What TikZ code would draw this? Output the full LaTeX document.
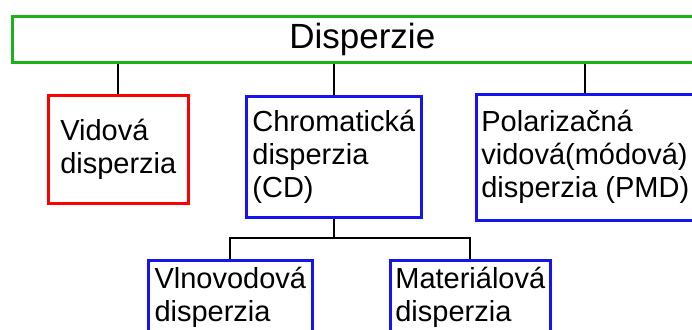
\documentclass[tikz,border=0pt]{standalone}
\usepackage{fontspec}
\setmainfont{Liberation Sans}
\definecolor{bgreen}{RGB}{26,180,26}
\definecolor{bblue}{RGB}{20,20,240}
\definecolor{bred}{RGB}{255,0,0}
\begin{document}
\begin{tikzpicture}[x=1pt,y=-1pt,
  box/.style={draw, line width=2.6pt, inner sep=0pt, align=left, anchor=north west,
              font=\fontsize{29}{33}\selectfont},
  link/.style={draw=black, line width=2pt}]
\useasboundingbox (0,0) rectangle (692,329);
\clip (0,0) rectangle (692,329);
\node[box, draw=bgreen, minimum width=700pt, minimum height=46pt,
      font=\fontsize{35}{40}\selectfont] (top) at (11,15) {Disperzie};
\node[box, draw=bred, minimum width=140pt, minimum height=108pt] (vid) at (47,94)
  {Vidová\\disperzia};
\node[box, draw=bblue, minimum width=175pt, minimum height=121pt] (chrom) at (245,95)
  {Chromatická\\disperzia\\(CD)};
\node[box, draw=bblue, minimum width=218pt, minimum height=126pt] (pol) at (475,93)
  {Polarizačná\\vidová(módová)\\disperzia (PMD)};
\node[box, draw=bblue, minimum width=164pt, minimum height=74pt] (vln) at (147,259)
  {Vlnovodová\\disperzia};
\node[box, draw=bblue, minimum width=160pt, minimum height=74pt] (mat) at (389,259)
  {Materiálová\\disperzia};
\coordinate (branch) at (332,238);
\draw[link] (top.south -| vid.north) -- (vid.north);
\draw[link] (top.south -| chrom.north) -- (chrom.north);
\draw[link] (top.south -| pol.north) -- (pol.north);
\draw[link] (chrom.south) -- (chrom.south |- branch);
\draw[link] (vln.north) -- (vln.north |- branch) -- (mat.north |- branch) -- (mat.north);
\end{tikzpicture}
\end{document}
